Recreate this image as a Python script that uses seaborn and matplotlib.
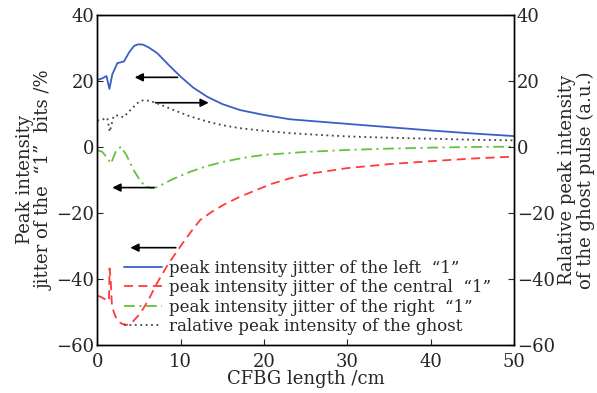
import matplotlib
matplotlib.use("Agg")
import matplotlib.pyplot as plt
import seaborn as sns

sns.set_theme(style="ticks")
plt.rcParams['font.family'] = ['DejaVu Serif', 'DejaVu Sans']

# left "1"
x_left = [0, 0.6, 1.1, 1.45, 1.8, 2.4, 3.2, 3.8, 4.4, 4.9, 5.5, 6.2, 7.2, 8.5, 10.0, 11.5, 13.2, 15, 17.1, 20, 23.1, 27, 30, 35, 40, 45, 50]
y_left = [20.3, 20.8, 21.5, 17.6, 22, 25.4, 25.9, 28.6, 30.6, 31.1, 31.0, 30.1, 28.4, 25, 21.3, 18, 15.2, 13, 11.2, 9.7, 8.4, 7.6, 7.0, 6.0, 5.0, 4.1, 3.3]

# central "1"
x_central = [0, 0.4, 1.15, 1.4, 1.47, 1.6, 1.76, 2.2, 2.56, 3.0, 3.56, 4.3, 5.16, 6.1, 7.15, 8.5, 9.95, 11.2, 12.35, 13.7, 15.1, 17, 19.1, 21, 23.1, 26, 30, 35, 40, 45, 50]
y_central = [-45, -45.4, -46.4, -46.6, -36.8, -40, -48.4, -51.5, -52.9, -53.6, -53.9, -52.8, -50.4, -46.5, -41.3, -35.5, -30.2, -25.8, -22.1, -19.7, -17.6, -15.2, -13, -11.1, -9.5, -7.9, -6.4, -5.2, -4.3, -3.5, -2.9]

# right "1"
x_right = [0, 0.56, 1.1, 1.64, 2.2, 2.84, 3.5, 4.36, 5.1, 5.76, 6.5, 7.15, 9.0, 11.15, 13.0, 15.1, 17.5, 19.9, 25, 30, 35, 40, 45, 50]
y_right = [-1.0, -1.4, -3.0, -5.0, -1.5, 0.1, -2.5, -7.0, -10.0, -12.0, -12.4, -12.2, -9.8, -7.5, -5.9, -4.5, -3.3, -2.4, -1.5, -0.9, -0.5, -0.2, 0.0, 0.1]

# ghost
x_ghost = [0, 0.6, 1.2, 1.5, 1.96, 2.5, 3.15, 4.2, 5.0, 5.55, 6.2, 7.0, 9.15, 11.0, 13.2, 15, 17.1, 20, 23.1, 27, 30, 35, 40, 45, 50]
y_ghost = [8.0, 8.3, 8.8, 4.6, 9.4, 9.6, 9.0, 11.8, 13.7, 14.2, 14.0, 13.4, 11.2, 9.4, 7.7, 6.6, 5.7, 4.9, 4.2, 3.6, 3.2, 2.8, 2.5, 2.2, 2.0]

labels = ['peak intensity jitter of the left  \u201c1\u201d',
          'peak intensity jitter of the central  \u201c1\u201d',
          'peak intensity jitter of the right  \u201c1\u201d',
          'ralative peak intensity of the ghost']

fig, ax = plt.subplots(figsize=(5.97, 3.93), dpi=100)
ax2 = ax.twinx()

sns.lineplot(x=x_left, y=y_left, ax=ax, color='#3a5fc4', lw=1.3, label=labels[0], legend=False)
sns.lineplot(x=x_central, y=y_central, ax=ax, color='#ff3b3b', lw=1.3, label=labels[1], legend=False)
ax.lines[-1].set_dashes([5, 3])
sns.lineplot(x=x_right, y=y_right, ax=ax, color='#66c23a', lw=1.3, label=labels[2], legend=False)
ax.lines[-1].set_dashes([6, 2.5, 1.2, 2.5])
sns.lineplot(x=x_ghost, y=y_ghost, ax=ax2, color='#444444', lw=1.3, label=labels[3], legend=False)
ax2.lines[-1].set_dashes([1, 2])

for a in (ax, ax2):
    a.set_xlim(0, 50)
    a.set_ylim(-60, 40)
    a.set_yticks([-60, -40, -20, 0, 20, 40])
    a.tick_params(direction='in', labelsize=13, length=4, width=0.8, pad=2)
    for s in a.spines.values():
        s.set_linewidth(1.0)
        s.set_color('black')
ax.set_xticks([0, 10, 20, 30, 40, 50])
ax.tick_params(axis='x', pad=6)
ax.set_yticklabels(['\u221260', '\u221240', '\u221220', '0', '20', '40'])
ax2.set_yticklabels(['\u221260', '\u221240', '\u221220', '0', '20', '40'])

ax.set_xlabel('CFBG length /cm', fontsize=13, labelpad=-1)
ax.set_ylabel('Peak intensity\njitter of the  \u201c1\u201d  bits /%', fontsize=13, linespacing=1.1, labelpad=2)
ax2.set_ylabel('Ralative peak intensity\nof the ghost pulse (a.u.)', fontsize=13, linespacing=1.1,
               rotation=90, labelpad=2)

arrows = [(9.95, 21.1, 4.15, 21.1), (6.67, 13.4, 13.7, 13.4),
          (7.15, -12.3, 1.47, -12.3), (9.75, -30.5, 3.63, -30.5)]
for x0, y0, x1, y1 in arrows:
    ax.annotate('', xy=(x1, y1), xytext=(x0, y0),
                arrowprops=dict(arrowstyle='-|>', color='black', lw=1.2, mutation_scale=12))

h1, l1 = ax.get_legend_handles_labels()
h2, l2 = ax2.get_legend_handles_labels()
ax.legend(h1 + h2, l1 + l2, loc='lower left', bbox_to_anchor=(0.04, 0.0), frameon=False,
          fontsize=12, handlelength=2.3, labelspacing=0.15, handletextpad=0.4, borderaxespad=0.2)

plt.subplots_adjust(left=0.163, right=0.861, top=0.962, bottom=0.122)
plt.savefig('out.png', dpi=100)
